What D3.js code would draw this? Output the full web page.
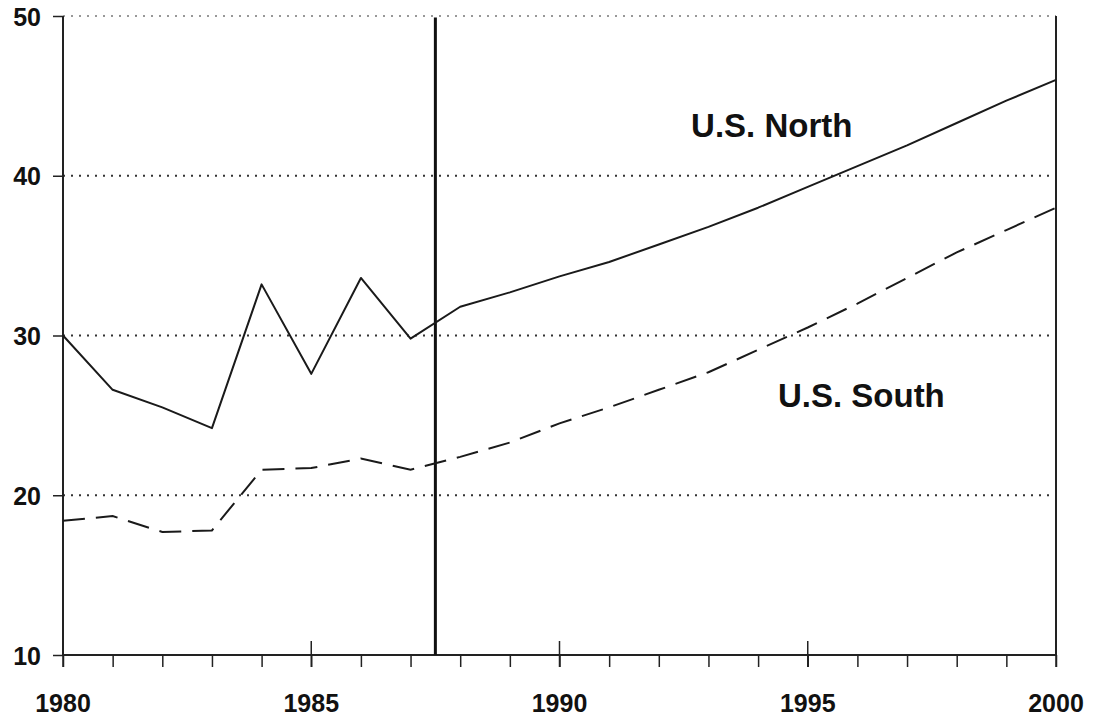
<!DOCTYPE html>
<html>
<head>
<meta charset="utf-8">
<script src="https://cdn.jsdelivr.net/npm/d3@7"></script>
<style>
html, body { margin: 0; padding: 0; background: #fff; }
svg { display: block; }
text { font-family: "Liberation Sans", Arial, Helvetica, sans-serif; fill: #111; }
</style>
</head>
<body>
<svg id="chart" width="1093" height="723"></svg>
<script>
// ---- data ----
const years = [1980,1981,1982,1983,1984,1985,1986,1987,1988,1989,1990,1991,1992,1993,1994,1995,1996,1997,1998,1999,2000];
const north = [30.0,26.6,25.5,24.2,33.2,27.6,33.6,29.8,31.8,32.7,33.7,34.6,35.7,36.8,38.0,39.3,40.6,41.9,43.3,44.7,46.0];
const south = [18.4,18.7,17.7,17.8,21.6,21.7,22.3,21.6,22.4,23.3,24.5,25.5,26.6,27.7,29.1,30.5,32.0,33.6,35.2,36.6,38.0];
const yTicks = [10,20,30,40,50];
const xMajorTicks = [1980,1985,1990,1995,2000];
const xMinorTicks = d3.range(1980, 2001);
const dividerYear = 1987.5;
const seriesLabels = [
  {text: "U.S. North", year: 1992.65, value: 42.45},
  {text: "U.S. South", year: 1994.4, value: 25.5}
];

// ---- layout ----
const svg = d3.select("#chart");
const x = d3.scaleLinear().domain([1980, 2000]).range([63, 1056]);
const y = d3.scaleLinear().domain([10, 50]).range([655, 16]);

// gridlines (dotted)
svg.append("g").selectAll("line")
  .data(yTicks.filter(d => d > 10))
  .join("line")
  .attr("x1", x(1980)).attr("x2", x(2000))
  .attr("y1", d => y(d)).attr("y2", d => y(d))
  .attr("stroke", d => d === 50 ? "#777" : "#333")
  .attr("stroke-width", d => d === 50 ? 1.5 : 2)
  .attr("stroke-dasharray", "2,6");

// left axis
const yAxis = d3.axisLeft(y).tickValues(yTicks).tickSize(10).tickPadding(12).tickFormat(d3.format("d"));
const gy = svg.append("g").attr("transform", `translate(${x(1980)},0)`).call(yAxis);
gy.select(".domain").attr("stroke", "#222").attr("stroke-width", 2).attr("d", `M0,${y(50)}V${y(10)}`);
gy.selectAll(".tick line").attr("stroke", "#222").attr("stroke-width", 1.5);
gy.selectAll(".tick text").attr("font-size", 25).attr("font-weight", "bold").attr("fill", "#111")
  .attr("font-family", "Liberation Sans, Arial, sans-serif").attr("dy", "0.36em");

// right border
svg.append("line")
  .attr("x1", x(2000)).attr("x2", x(2000))
  .attr("y1", y(50)).attr("y2", y(10))
  .attr("stroke", "#222").attr("stroke-width", 2);

// bottom axis: minor ticks
const gxMinor = svg.append("g").attr("transform", `translate(0,${y(10)})`)
  .call(d3.axisBottom(x).tickValues(xMinorTicks).tickSize(12).tickFormat(""));
gxMinor.select(".domain").attr("stroke", "#222").attr("stroke-width", 2).attr("d", `M${x(1980)},0H${x(2000)}`);
gxMinor.selectAll(".tick line").attr("stroke", "#222").attr("stroke-width", 1.5);

// major ticks extend above the axis as well
svg.append("g").selectAll("line")
  .data(xMajorTicks)
  .join("line")
  .attr("x1", d => x(d)).attr("x2", d => x(d))
  .attr("y1", y(10) - 14).attr("y2", y(10) + 12)
  .attr("stroke", "#222").attr("stroke-width", 1.5);

// major tick labels
svg.append("g").selectAll("text")
  .data(xMajorTicks)
  .join("text")
  .attr("x", d => x(d)).attr("y", 712)
  .attr("text-anchor", "middle")
  .attr("font-size", 25)
  .attr("font-weight", "bold")
  .text(d => d);

// divider line
svg.append("line")
  .attr("x1", x(dividerYear)).attr("x2", x(dividerYear))
  .attr("y1", y(49.9)).attr("y2", y(10))
  .attr("stroke", "#111").attr("stroke-width", 3);

// series
const line = d3.line().x((d, i) => x(years[i])).y(d => y(d));
svg.append("path").datum(north)
  .attr("d", line).attr("fill", "none")
  .attr("stroke", "#1a1a1a").attr("stroke-width", 2).attr("stroke-linejoin", "round");
svg.append("path").datum(south)
  .attr("d", line).attr("fill", "none")
  .attr("stroke", "#1a1a1a").attr("stroke-width", 2)
  .attr("stroke-dasharray", "22,11");

// series labels
svg.append("g").selectAll("text")
  .data(seriesLabels)
  .join("text")
  .attr("x", d => x(d.year)).attr("y", d => y(d.value))
  .attr("font-size", 33)
  .attr("font-weight", "bold")
  .text(d => d.text);
</script>
</body>
</html>
